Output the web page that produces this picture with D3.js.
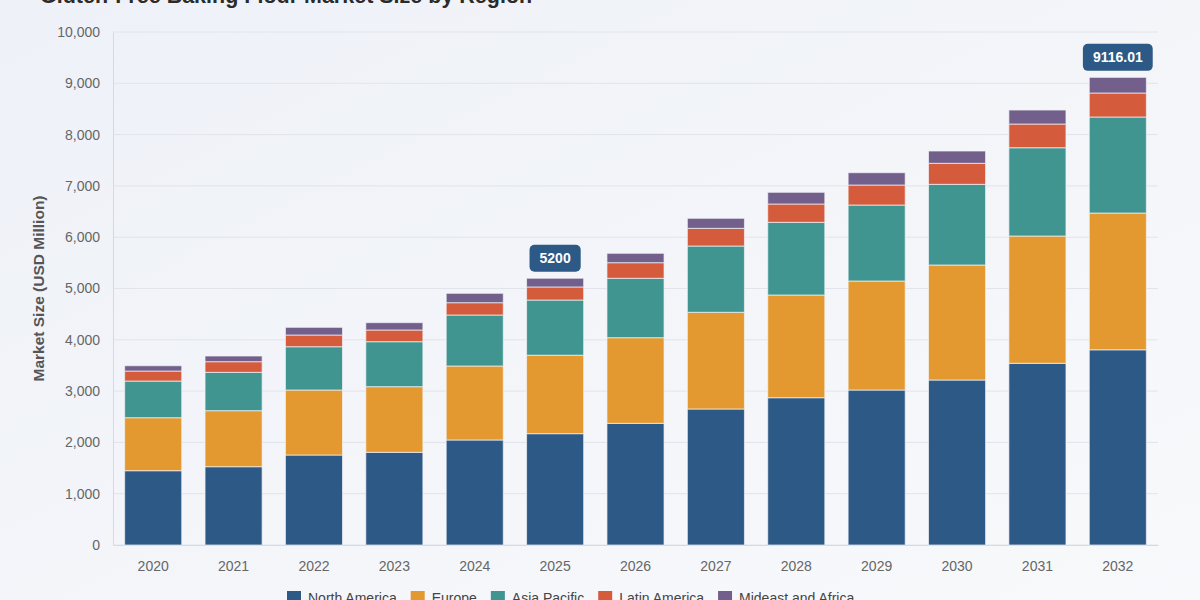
<!DOCTYPE html>
<html>
<head>
<meta charset="utf-8">
<script src="https://cdn.jsdelivr.net/npm/d3@7"></script>
<style>
  html, body { margin: 0; padding: 0; }
  body { width: 1200px; height: 600px; overflow: hidden; font-family: "Liberation Sans", Arial, sans-serif; }
</style>
</head>
<body>
<svg id="chart" width="1200" height="600"></svg>
<script>
// data (USD Million)
const years = ["2020", "2021", "2022", "2023", "2024", "2025", "2026", "2027", "2028", "2029", "2030", "2031", "2032"];
const regions = ["North America", "Europe", "Asia Pacific", "Latin America", "Mideast and Africa"];
const northAmerica = [1448, 1526, 1754, 1807, 2047, 2170, 2372, 2651, 2871, 3021, 3216, 3542, 3805];
const europe       = [1033, 1092, 1267, 1279, 1442, 1530, 1669, 1885, 2002, 2125, 2242, 2481, 2666];
const asiaPacific  = [ 715,  748,  844,  877,  994, 1075, 1158, 1292, 1417, 1481, 1573, 1721, 1872];
const latinAmerica = [ 195,  207,  228,  228,  240,  255,  304,  345,  357,  390,  409,  462,  468];
const mideastAfrica= [ 103,  111,  150,  143,  183,  170,  183,  195,  228,  240,  240,  273,  305.01];
const yTicks = [0, 1000, 2000, 3000, 4000, 5000, 6000, 7000, 8000, 9000, 10000];
const callouts = [{ year: "2025", label: "5200" }, { year: "2032", label: "9116.01" }];
const colors = ["#2c5985", "#e3992f", "#419590", "#d45b3b", "#735f8b"];

const series = [northAmerica, europe, asiaPacific, latinAmerica, mideastAfrica];
const rows = years.map((y, i) => {
    const r = { year: y };
    regions.forEach((name, k) => { r[name] = series[k][i]; });
    return r;
});

const svg = d3.select("#chart");
const margin = { top: 32, right: 42, bottom: 55, left: 113 };
const width = 1200 - margin.left - margin.right;
const height = 600 - margin.top - margin.bottom;

// background
const defs = svg.append("defs");
const grad = defs.append("linearGradient").attr("id", "bg").attr("x1", 0).attr("y1", 0).attr("x2", 1).attr("y2", 1);
grad.append("stop").attr("offset", "0%").attr("stop-color", "#eef1f8");
grad.append("stop").attr("offset", "100%").attr("stop-color", "#f8f9fb");
svg.append("rect").attr("width", 1200).attr("height", 600).attr("fill", "url(#bg)");

const g = svg.append("g").attr("transform", `translate(${margin.left},${margin.top})`);

const x = d3.scaleBand().domain(years).range([0, width]).paddingInner(0.29).paddingOuter(0.145);
const y = d3.scaleLinear().domain([0, 10000]).range([height, 0]);

// grid
g.append("g")
    .selectAll("line")
    .data(yTicks)
    .join("line")
        .attr("x1", 0)
        .attr("x2", width)
        .attr("y1", d => y(d))
        .attr("y2", d => y(d))
        .attr("stroke", "#e1e4ea")
        .attr("stroke-width", 1);

// y axis
const yAxis = g.append("g")
    .call(d3.axisLeft(y).tickValues(yTicks).tickFormat(d3.format(",")).tickSize(0).tickPadding(13));
yAxis.select(".domain").attr("stroke", "#d6d9df");
yAxis.selectAll("text").attr("fill", "#666").style("font-size", "14px").style("font-family", "Liberation Sans, Arial, sans-serif");

// x axis
const xAxis = g.append("g")
    .attr("transform", `translate(0,${height})`)
    .call(d3.axisBottom(x).tickSize(0).tickPadding(16));
xAxis.select(".domain").attr("stroke", "#d6d9df");
xAxis.selectAll("text").attr("fill", "#666").style("font-size", "14px").style("font-family", "Liberation Sans, Arial, sans-serif");

// stacked bars
const stacked = d3.stack().keys(regions)(rows);
g.append("g")
    .selectAll("g.layer")
    .data(stacked)
    .join("g")
        .attr("class", "layer")
        .attr("fill", (d, i) => colors[i])
    .selectAll("rect")
    .data(d => d)
    .join("rect")
        .attr("x", d => x(d.data.year))
        .attr("y", d => y(d[1]))
        .attr("width", x.bandwidth())
        .attr("height", d => y(d[0]) - y(d[1]))
        .attr("stroke", "#f2f4f8")
        .attr("stroke-opacity", 0.7)
        .attr("stroke-width", 1);

// callout labels
const totals = {};
rows.forEach(r => { totals[r.year] = d3.sum(regions, k => r[k]); });
const callG = g.append("g")
    .selectAll("g")
    .data(callouts)
    .join("g")
        .attr("transform", d => `translate(${x(d.year) + x.bandwidth() / 2},${y(totals[d.year]) - 20})`);
callG.append("text")
    .attr("text-anchor", "middle")
    .attr("dy", "0.36em")
    .attr("fill", "#fff")
    .style("font-size", "14px")
    .style("font-weight", "bold")
    .text(d => d.label);
callG.each(function() {
    const t = d3.select(this).select("text");
    const w = t.node().getComputedTextLength() + 20;
    d3.select(this).insert("rect", "text")
        .attr("x", -w / 2)
        .attr("y", -13.5)
        .attr("width", w)
        .attr("height", 27)
        .attr("rx", 5)
        .attr("fill", "#2c5985");
});

// title
svg.append("text")
    .attr("x", 40)
    .attr("y", 3)
    .attr("fill", "#2b2b2b")
    .style("font-size", "21.5px")
    .style("font-weight", "bold")
    .text("Gluten-Free Baking Flour Market Size by Region");

// y axis title
svg.append("text")
    .attr("transform", `translate(44,${margin.top + height / 2}) rotate(-90)`)
    .attr("text-anchor", "middle")
    .attr("fill", "#555")
    .style("font-size", "15.5px")
    .style("font-weight", "bold")
    .text("Market Size (USD Million)");

// legend
const legend = svg.append("g").attr("transform", "translate(287,598)");
let lx = 0;
regions.forEach((name, i) => {
    const item = legend.append("g").attr("transform", `translate(${lx},0)`);
    item.append("rect").attr("x", 0).attr("y", -7).attr("width", 14).attr("height", 14).attr("fill", colors[i]);
    const t = item.append("text")
        .attr("x", 21)
        .attr("dy", "0.35em")
        .attr("fill", "#444")
        .style("font-size", "14px")
        .text(name);
    lx += 21 + t.node().getComputedTextLength() + 14;
});
</script>
</body>
</html>
